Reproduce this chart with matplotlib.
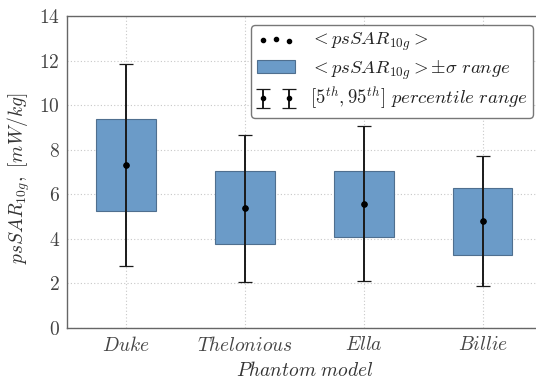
import matplotlib.pyplot as plt
import numpy as np

plt.rcParams['mathtext.fontset'] = 'cm'
plt.rcParams['font.family'] = 'serif'
plt.rcParams['font.serif'] = ['cmr10', 'DejaVu Serif']
plt.rcParams['axes.formatter.use_mathtext'] = True

# ~~~~~~~~~~~~~~~~~~~~~~~~~~~~~~~~~~   DATA   ~~~~~~~~~~~~~~~~~~~~~~~~~~~~~~~~~~
phantoms = ['Duke', 'Thelonious', 'Ella', 'Billie']
mean_sar = [7.33, 5.36, 5.56, 4.79]
sigma_low = [5.24, 3.74, 4.07, 3.29]
sigma_high = [9.36, 7.03, 7.06, 6.28]
p5 = [2.78, 2.04, 2.09, 1.88]
p95 = [11.86, 8.67, 9.04, 7.70]

# ~~~~~~~~~~~~~~~~~~~~~~~~~~~~~~~~~~   PLOT   ~~~~~~~~~~~~~~~~~~~~~~~~~~~~~~~~~~
fig = plt.figure(figsize=(5.36, 3.82), dpi=100)
ax = fig.add_axes([0.1244, 0.142, 0.887, 0.816])

x = np.arange(len(phantoms))
mean_np = np.array(mean_sar)
lo_np = np.array(sigma_low)
hi_np = np.array(sigma_high)

bars = ax.bar(x, hi_np - lo_np, bottom=lo_np, width=0.5, color='#6b9bc8',
              edgecolor='#4f6f8f', linewidth=0.8, zorder=2)
errs = ax.errorbar(x, mean_np, yerr=[mean_np - np.array(p5), np.array(p95) - mean_np],
                   fmt='k.', ecolor='#1a1a1a', elinewidth=1.4, capsize=5, capthick=0.9,
                   markersize=6, zorder=3)
errs[1][0].set_color('#555555')
errs[1][1].set_color('#555555')
dots = ax.scatter(x, mean_np, s=14, color='k', zorder=4)

ax.set_xlim(-0.5, 3.5)
ax.set_ylim(0, 14)
ax.set_yticks(np.arange(0, 15, 2))
ax.set_xticks(x)
ax.set_xticklabels([r'$\mathit{%s}$' % p for p in phantoms])
ax.tick_params(length=0, labelsize=14, labelcolor='#444444')
ax.tick_params(axis='x', pad=6)
ax.tick_params(axis='y', pad=5)
ax.set_xlabel(r'$Phantom\ model$', fontsize=14, color='#333333')
ax.set_ylabel(r'$psSAR_{10g},\ [mW/kg]$', fontsize=14, color='#333333')
ax.yaxis.set_label_coords(-0.072, 0.48)
ax.grid(True, linestyle=(0, (1, 2)), color='#c8c8c8', linewidth=0.8, zorder=0)
ax.set_axisbelow(True)
for s in ax.spines.values():
    s.set_color('#666666')
    s.set_linewidth(1.0)

leg = ax.legend([dots, bars, errs],
                [r'$<psSAR_{10g}>$', r'$<psSAR_{10g}>\pm\sigma\ range$',
                 r'$[5^{th},95^{th}]\ percentile\ range$'],
                loc='upper right', fontsize=13.5, numpoints=2, scatterpoints=3,
                fancybox=True, edgecolor='#777777', framealpha=1, handlelength=2.0,
                labelspacing=0.25, borderpad=0.3)
leg.get_frame().set_linewidth(1.0)
leg.set_zorder(5)
leg.legend_handles[0].set_sizes([9])
for t in leg.get_texts():
    t.set_color('#222222')

plt.savefig('out.png', dpi=100)
